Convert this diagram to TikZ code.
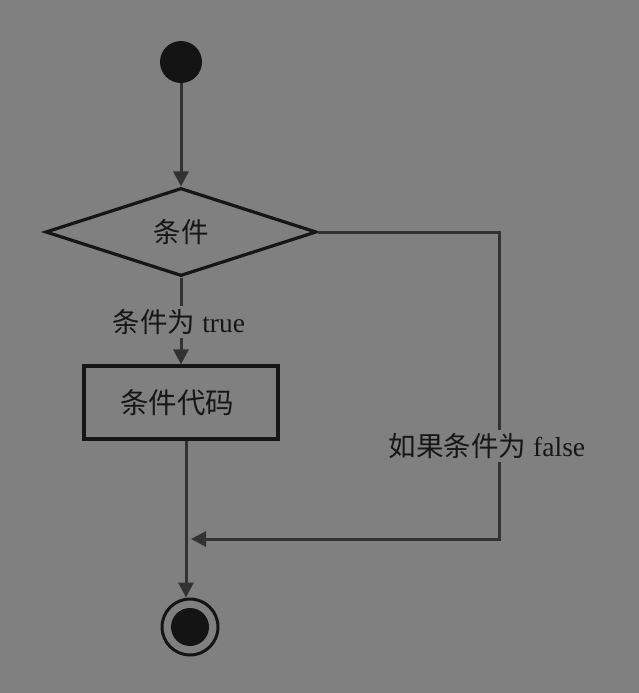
\documentclass[tikz,border=0pt]{standalone}
\usepackage{fontspec}
\setmainfont{Liberation Serif}
\newfontfamily\cjk{Noto Sans CJK SC}
\usetikzlibrary{arrows.meta,shapes.geometric}
\definecolor{bg}{RGB}{128,128,128}
\definecolor{ln}{RGB}{50,50,50}
\definecolor{tx}{RGB}{22,22,22}
\begin{document}
\begin{tikzpicture}[x=1pt,y=-1pt,
  arr/.style={draw=ln,line width=3pt,-{Triangle[length=15pt,width=15pt]}},
  plain/.style={draw=ln,line width=3pt},
  lbl/.style={fill=bg,text=tx,inner sep=3pt,font=\fontsize{27.5}{30}\selectfont},
  decision/.style={diamond,draw=tx,line width=3.2pt,minimum width=271pt,minimum height=88pt,inner sep=0pt,text=tx,font=\fontsize{27.5}{30}\selectfont},
  actbox/.style={rectangle,draw=tx,line width=3.2pt,minimum width=194pt,minimum height=73pt,inner sep=0pt,text=tx,font=\fontsize{28.5}{30}\selectfont},
  startdot/.style={circle,fill=black!92,minimum size=42pt,inner sep=0pt},
  enddot/.style={circle,draw=black!92,line width=3pt,fill=bg,minimum size=56pt,inner sep=0pt,
    path picture={\fill[black!92] (path picture bounding box.center) circle (19pt);}}]
\fill[bg] (0,0) rectangle (639,693);
\useasboundingbox (0,0) rectangle (639,693);
\node[startdot] (s) at (181,62) {};
\node[decision] (d) at (181,232) {\cjk 条件};
\node[lbl] (t) at (179,322) {{\cjk 条件为} true};
\node[actbox] (b) at (181,402.5) {\hspace*{-8pt}\cjk 条件代码};
\node[enddot] (e) at (190,627) {};
\coordinate (r) at (499,232);
\coordinate (rb) at (499,539);
\coordinate (j) at (186,539);
\node[lbl] (f) at (487,446) {{\cjk 如果条件为} false};
\draw[arr] (s) -- (d.north);
\draw[plain] (d.south) -- (t.north -| d.south);
\draw[arr] (t.south -| b.north) -- (b.north);
\draw[arr] (b.south -| j) -- (e.north -| j);
\draw[plain] (d.east) -- (r) -- (f.north -| r);
\draw[arr] (f.south -| r) -- (rb) -- ([xshift=5pt]j);
\end{tikzpicture}
\end{document}
